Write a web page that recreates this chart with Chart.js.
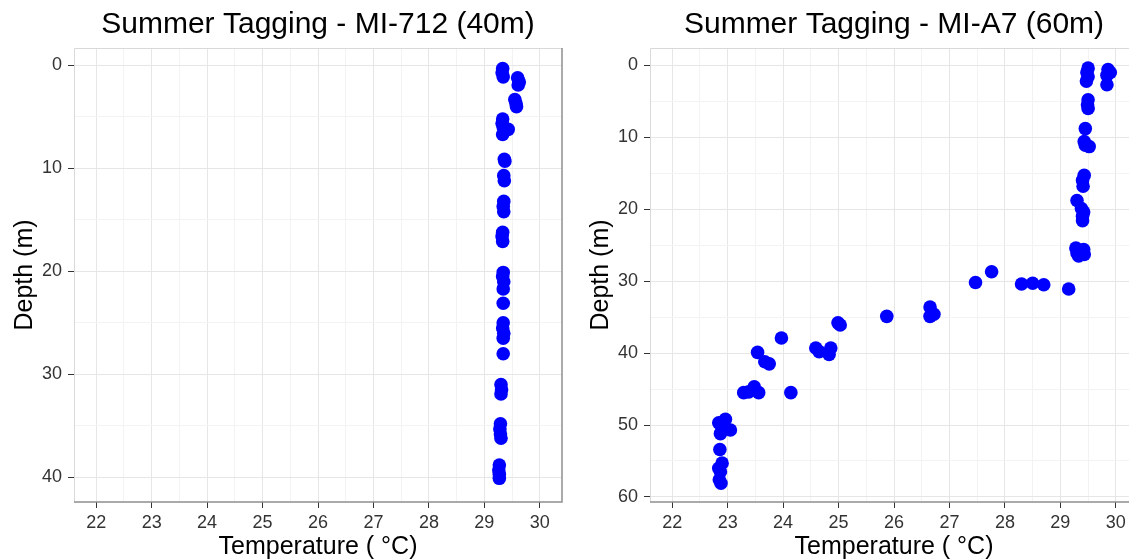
<!DOCTYPE html>
<html>
<head>
<meta charset="utf-8">
<script src="https://cdn.jsdelivr.net/npm/chart.js@4/dist/chart.umd.min.js"></script>
<style>
  html, body { margin: 0; padding: 0; background: #fff; overflow: hidden; }
  #wrap { position: relative; width: 1129px; height: 560px; overflow: hidden; }
  canvas { position: absolute; top: 0; }
  #left { left: 0; }
  #right { left: 570px; }
</style>
</head>
<body>
<div id="wrap">
  <canvas id="left" width="570" height="560"></canvas>
  <canvas id="right" width="580" height="560"></canvas>
</div>
<script>
// x ticks shared by both panels
const tempTicks = [22, 23, 24, 25, 26, 27, 28, 29, 30];
const leftDepthTicks = [0, 10, 20, 30, 40];
const rightDepthTicks = [0, 10, 20, 30, 40, 50, 60];

const leftTitle = "Summer Tagging - MI-712 (40m)";
const rightTitle = "Summer Tagging - MI-A7 (60m)";

// MI-712 (40m)
const leftTemp = [
  29.33, 29.32, 29.34, 29.60, 29.63, 29.61, 29.55, 29.57, 29.58,
  29.33, 29.32, 29.34, 29.43, 29.33, 29.36, 29.37, 29.35, 29.36,
  29.35, 29.34, 29.35, 29.33, 29.32, 29.33, 29.34, 29.33, 29.35, 29.34,
  29.34, 29.34, 29.33, 29.35, 29.34, 29.34, 29.30, 29.31, 29.30,
  29.29, 29.28, 29.29, 29.30, 29.27, 29.26, 29.27, 29.27
];
const leftDepth = [
  0.3, 0.7, 1.1, 1.2, 1.6, 1.9, 3.3, 3.7, 4.0,
  5.2, 5.6, 6.0, 6.2, 6.7, 9.1, 9.3, 10.7, 11.2,
  13.2, 13.7, 14.2, 16.2, 16.6, 17.1, 20.1, 20.5, 21.0, 21.7,
  23.1, 25.0, 25.5, 26.0, 26.5, 28.0, 31.0, 31.5, 31.9,
  34.8, 35.3, 35.8, 36.2, 38.8, 39.3, 39.7, 40.1
];

// MI-A7 (60m)
const rightTemp = [
  29.50, 29.48, 29.50, 29.47, 29.86, 29.90, 29.84, 29.84,
  29.50, 29.49, 29.50, 29.45, 29.43, 29.45, 29.52,
  29.43, 29.40, 29.41, 29.30, 29.38, 29.42, 29.40, 29.40,
  29.28, 29.30, 29.42, 29.43, 29.33,
  27.47, 27.76, 28.30, 28.50, 28.70, 29.15,
  26.65, 26.65, 26.72, 25.87, 24.99, 25.03, 23.97,
  23.54, 24.59, 24.65, 24.86, 24.83, 23.67, 23.75,
  23.29, 23.38, 23.48, 23.56, 24.14,
  22.84, 22.96, 23.05, 22.87, 22.90, 22.86,
  22.90, 22.87, 22.85, 22.88, 22.84
];
const rightDepth = [
  0.4, 1.0, 1.6, 2.2, 0.6, 1.0, 1.4, 2.7,
  4.8, 5.5, 6.0, 8.8, 10.6, 11.1, 11.3,
  15.3, 16.0, 16.8, 18.8, 19.9, 20.4, 21.0, 21.6,
  25.4, 26.1, 25.6, 26.3, 26.5,
  30.2, 28.7, 30.4, 30.3, 30.5, 31.1,
  33.6, 34.9, 34.6, 34.9, 35.8, 36.1, 37.9,
  39.9, 39.3, 39.8, 39.3, 40.2, 41.2, 41.5,
  45.5, 45.4, 44.7, 45.5, 45.5,
  49.7, 49.2, 50.7, 51.2, 50.3, 53.4,
  55.3, 56.5, 57.6, 58.1, 56.0
];

const FONT = '"Liberation Sans", Arial, sans-serif';

// ticks with a minor line halfway between majors
function withMinor(major) {
  const out = [];
  major.forEach((v, i) => {
    out.push({ value: v, major: true });
    if (i < major.length - 1) out.push({ value: (v + major[i + 1]) / 2, major: false });
  });
  return out;
}

const panelFrame = {
  id: "panelFrame",
  afterDraw(chart, args, opts) {
    const { ctx, chartArea: a } = chart;
    ctx.save();
    ctx.lineWidth = 1;
    ctx.strokeStyle = "#d9d9d9";
    ctx.beginPath();
    ctx.moveTo(a.left + 0.5, a.bottom);
    ctx.lineTo(a.left + 0.5, a.top + 0.5);
    ctx.lineTo(a.right, a.top + 0.5);
    ctx.stroke();
    ctx.strokeStyle = "#8f8f8f";
    ctx.lineWidth = 1.5;
    ctx.beginPath();
    ctx.moveTo(a.left, a.bottom);
    ctx.lineTo(a.right, a.bottom);
    ctx.lineTo(a.right, a.top);
    ctx.stroke();
    ctx.fillStyle = "#000";
    ctx.font = "30px " + FONT;
    ctx.textAlign = "center";
    ctx.textBaseline = "middle";
    ctx.fillText(opts.text, (a.left + a.right) / 2, 25);
    ctx.restore();
  }
};

function makeChart(id, temps, depths, depthTicks, yMin, yMax, yWidth, title, padRight, titlePad) {
  const points = temps.map((t, i) => ({ x: t, y: depths[i] }));
  const gridColor = (c) => (c.tick && c.tick.major ? "#e6e6e6" : "#f3f3f3");
  const tickColor = (c) => (c.tick && c.tick.major ? "#333333" : "rgba(0,0,0,0)");
  return new Chart(document.getElementById(id), {
    type: "scatter",
    data: {
      datasets: [{
        data: points,
        backgroundColor: "#0000ff",
        borderWidth: 0,
        pointRadius: 6.8,
        pointHoverRadius: 6.8
      }]
    },
    plugins: [panelFrame],
    options: {
      responsive: false,
      animation: false,
      layout: { padding: { top: 48, right: padRight, left: 0, bottom: 0 } },
      plugins: {
        legend: { display: false },
        tooltip: { enabled: false },
        panelFrame: { text: title }
      },
      scales: {
        x: {
          type: "linear",
          min: 21.6,
          max: 30.4,
          afterBuildTicks: (s) => { s.ticks = withMinor(tempTicks); },
          afterFit: (s) => { s.height = 58; },
          grid: { color: gridColor, tickColor: tickColor, tickLength: 6, lineWidth: 1 },
          border: { display: false },
          ticks: {
            autoSkip: false,
            maxRotation: 0,
            padding: 4,
            color: "#333333",
            font: { family: FONT, size: 18 },
            callback: (v) => (tempTicks.includes(v) ? String(v) : "")
          },
          title: {
            display: true,
            text: "Temperature ( °C)",
            color: "#000",
            font: { family: FONT, size: 25, lineHeight: 1 },
            padding: { top: 0, bottom: 0 }
          }
        },
        y: {
          type: "linear",
          reverse: true,
          min: yMin,
          max: yMax,
          afterBuildTicks: (s) => { s.ticks = withMinor(depthTicks); },
          afterFit: (s) => { s.width = yWidth; },
          grid: { color: gridColor, tickColor: tickColor, tickLength: 6, lineWidth: 1 },
          border: { display: false },
          ticks: {
            autoSkip: false,
            padding: 6,
            color: "#333333",
            font: { family: FONT, size: 18 },
            callback: (v) => (depthTicks.includes(v) ? String(v) : "")
          },
          title: {
            display: true,
            text: "Depth (m)",
            color: "#000",
            font: { family: FONT, size: 25, lineHeight: 1 },
            padding: { top: titlePad, bottom: 0 }
          }
        }
      }
    }
  });
}

makeChart("left", leftTemp, leftDepth, leftDepthTicks, -1.7, 42.4, 74, leftTitle, 8, 13);
makeChart("right", rightTemp, rightDepth, rightDepthTicks, -2.4, 60.7, 80, rightTitle, 12, 19);
</script>
</body>
</html>
